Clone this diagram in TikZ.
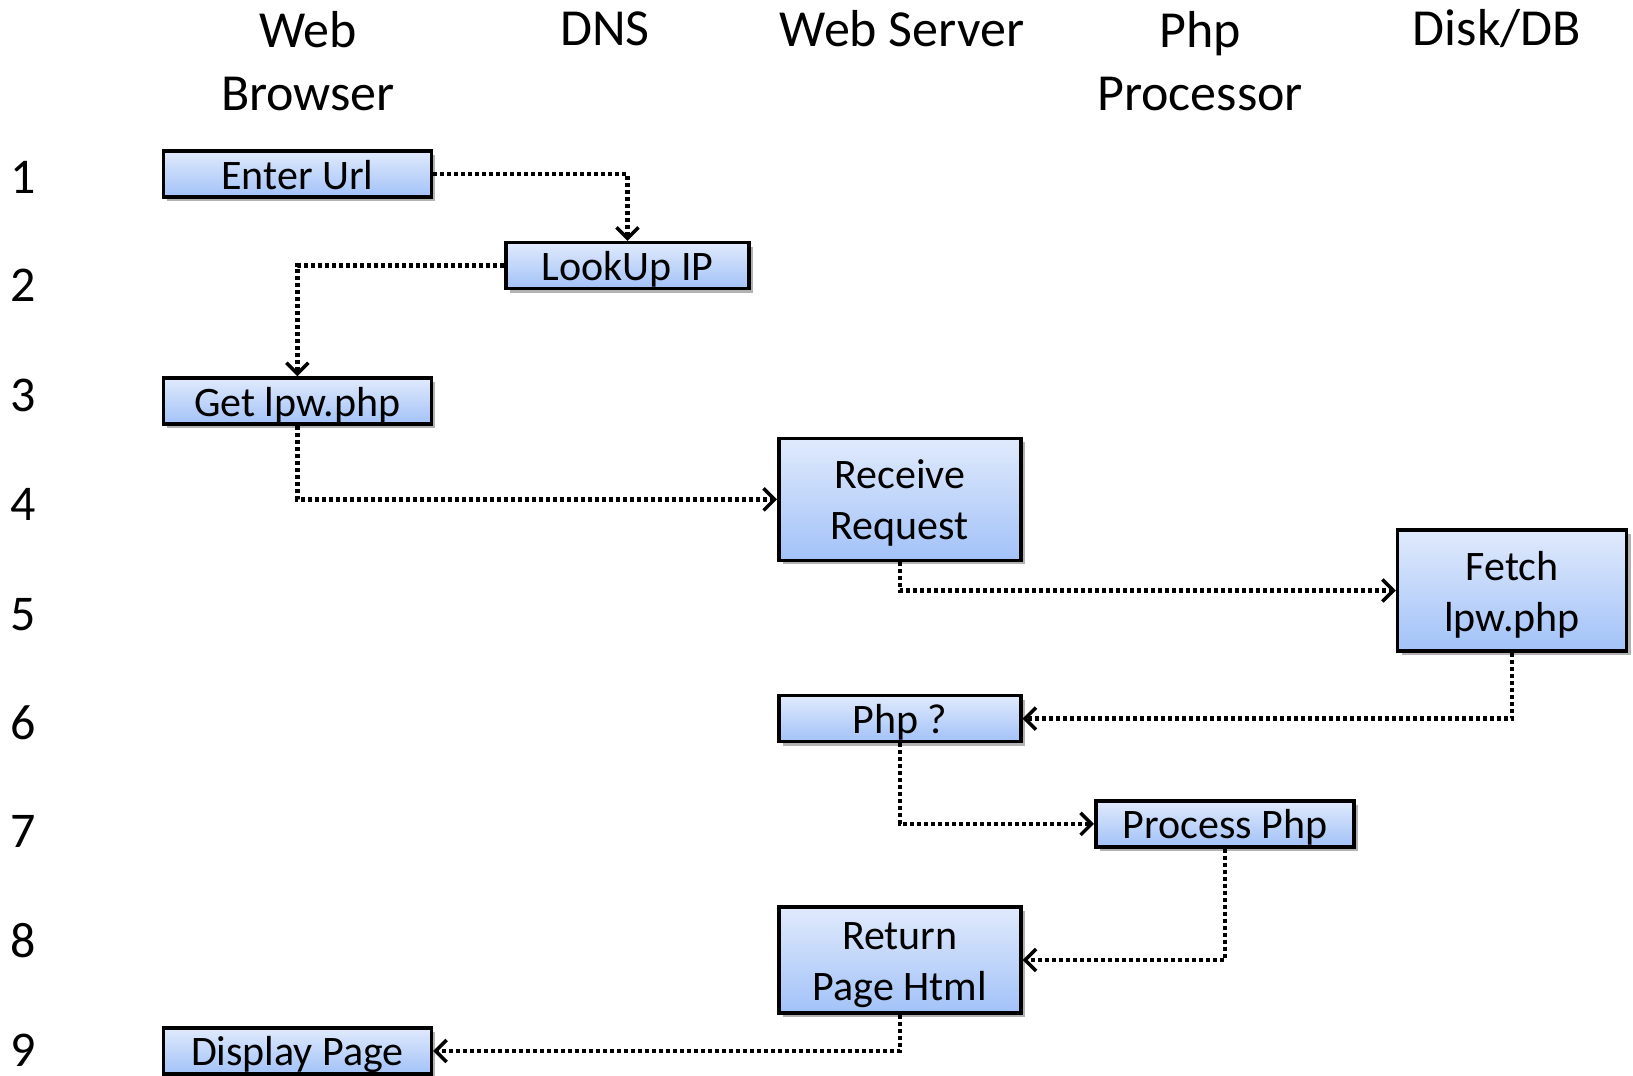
\documentclass[tikz,border=0pt]{standalone}
\usepackage{fontspec}
\setmainfont{Carlito}
\usetikzlibrary{shadows,arrows.meta}
\definecolor{boxtop}{RGB}{224,234,252}
\definecolor{boxbot}{RGB}{162,194,248}
\tikzset{
  stepbox/.style={draw=black, line width=3.5pt, inner sep=0pt, align=center,
    top color=boxtop, bottom color=boxbot,
    font=\fontsize{42}{51}\selectfont,
    drop shadow={shadow xshift=4pt, shadow yshift=-4pt, opacity=0.3, fill=black}},
  oneline/.style={text height=33pt, text depth=3pt},
  twoline/.style={text height=84pt, text depth=3pt},
  hdr/.style={align=center, font=\fontsize{52}{63.5}\selectfont, inner sep=0pt},
  rownum/.style={font=\fontsize{50}{60}\selectfont, inner sep=0pt},
  flow/.style={line width=4.5pt, dash pattern=on 4pt off 3pt,
    -{Straight Barb[length=11pt,width=22pt,line width=3.5pt]}}
}
\begin{document}
\begin{tikzpicture}[x=1pt,y=-1pt]
\useasboundingbox (0,0) rectangle (1633,1076);
% headers
\node[hdr] (hbrowser) at (308,61) {Web\\Browser};
\node[hdr] (hdns) at (605,29) {DNS};
\node[hdr] (hweb) at (902,29) {Web Server};
\node[hdr] (hphp) at (1200,61) {Php\\Processor};
\node[hdr] (hdisk) at (1497,29) {Disk/DB};
% row numbers
\foreach \n/\yy in {1/177,2/285.4,3/395.7,4/504,5/614.5,6/722.8,7/831,8/940.4,9/1049.8}
  \node[rownum] (r\n) at (23,\yy) {\n};
% boxes
\node[stepbox, oneline, minimum width=268pt, minimum height=46pt] (enter) at (297.4,174) {Enter Url};
\node[stepbox, oneline, minimum width=243pt, minimum height=46pt] (lookup) at (627.4,265.6) {LookUp IP};
\node[stepbox, oneline, minimum width=268pt, minimum height=46pt] (get) at (297.4,401) {Get lpw.php};
\node[stepbox, twoline, minimum width=242pt, minimum height=122pt] (recv) at (899.8,499.4) {Receive\\Request};
\node[stepbox, twoline, minimum width=229pt, minimum height=121pt] (fetch) at (1512,590.5) {Fetch\\lpw.php};
\node[stepbox, oneline, minimum width=242pt, minimum height=46pt] (phpq) at (899.8,718.6) {Php ?};
\node[stepbox, oneline, minimum width=258pt, minimum height=46pt] (proc) at (1224.8,823.9) {Process Php};
\node[stepbox, twoline, minimum width=242pt, minimum height=106pt] (ret) at (899.8,960) {Return\\Page Html};
\node[stepbox, oneline, minimum width=268pt, minimum height=46pt] (disp) at (297.4,1050.9) {Display Page};
% connectors
\draw[flow] (enter.east) -| (lookup.north);
\draw[flow] (lookup.west) -| (get.north);
\draw[flow] (get.south) |- (recv.west);
\draw[flow] (recv.south) |- (fetch.west);
\draw[flow] (fetch.south) |- (phpq.east);
\draw[flow] (phpq.south) |- (proc.west);
\draw[flow] (proc.south) |- (ret.east);
\draw[flow] (ret.south) |- (disp.east);
\end{tikzpicture}
\end{document}
